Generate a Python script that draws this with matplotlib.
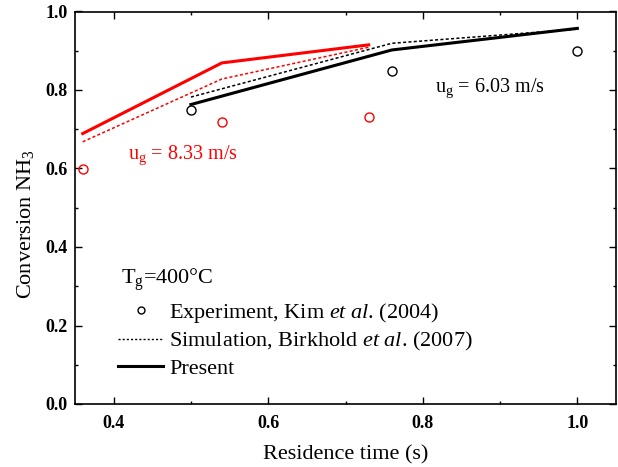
import matplotlib
matplotlib.use('Agg')
import matplotlib.pyplot as plt
from matplotlib.lines import Line2D
from matplotlib.ticker import MultipleLocator

plt.rcParams['font.family'] = ['Liberation Serif', 'DejaVu Serif']
plt.rcParams['mathtext.fontset'] = 'custom'
plt.rcParams['mathtext.rm'] = 'Liberation Serif'
plt.rcParams['mathtext.it'] = 'Liberation Serif:italic'

# u_g = 8.33 m/s (red)
t_833 = [0.36, 0.54, 0.73]
exp_833 = [0.600, 0.718, 0.731]
sim_833 = [0.668, 0.828, 0.909]
pres_833 = [0.689, 0.869, 0.915]

# u_g = 6.03 m/s (black)
t_603 = [0.50, 0.76, 1.00]
exp_603 = [0.750, 0.849, 0.900]
sim_603 = [0.782, 0.919, 0.955]
pres_603 = [0.763, 0.902, 0.957]

RED = '#ff0000'

fig = plt.figure(figsize=(6.18, 4.67), dpi=100)
ax = fig.add_axes([75 / 618, 63 / 467, 541 / 618, 392.5 / 467])

# red set
ax.plot(t_833, pres_833, color=RED, lw=2.2)
ax.plot(t_833, sim_833, color=RED, lw=1.1, linestyle=(0, (2, 1.5)))
ax.plot(t_833, exp_833, 'o', mfc='none', mec=RED, ms=6.5, mew=1.0)

# black set
ax.plot(t_603, pres_603, color='black', lw=2.2)
ax.plot(t_603, sim_603, color='black', lw=1.1, linestyle=(0, (2, 1.5)))
ax.plot(t_603, exp_603, 'o', mfc='none', mec='black', ms=6.5, mew=1.0)

ax.text(0.816, 0.795, r'u$_\mathrm{g}$ = 6.03 m/s', fontsize=14.5, color='black')
ax.text(0.419, 0.623, r'u$_\mathrm{g}$ = 8.33 m/s', fontsize=14.5, color=RED)
ax.text(0.409, 0.305, r'T$_\mathrm{g}$=400°C', fontsize=16)

handles = [
    Line2D([], [], marker='o', linestyle='none', mfc='none', mec='black', ms=5, mew=1.0),
    Line2D([], [], color='black', lw=1.0, linestyle=(0, (1.5, 1.5))),
    Line2D([], [], color='black', lw=2.2),
]
labels = [
    r'Experiment, Kim $\mathit{et\ al}$. (2004)',
    r'Simulation, Birkhold $\mathit{et\ al}$. (2007)',
    'Present',
]
ax.legend(handles, labels, loc='upper left', bbox_to_anchor=(0.406, 0.262),
          bbox_transform=ax.transData, frameon=False, fontsize=16,
          borderpad=0, borderaxespad=0, handlelength=2.0, handletextpad=0.3,
          labelspacing=0.22)

ax.set_xlim(0.35, 1.05)
ax.set_ylim(0.0, 1.0)
ax.xaxis.set_major_locator(MultipleLocator(0.2))
ax.xaxis.set_minor_locator(MultipleLocator(0.1))
ax.yaxis.set_major_locator(MultipleLocator(0.2))
ax.yaxis.set_minor_locator(MultipleLocator(0.1))
ax.tick_params(which='both', direction='in', top=True, right=True, width=1.0)
ax.tick_params(which='major', length=5)
ax.tick_params(which='minor', length=2.5)
ax.tick_params(axis='x', pad=8, labelsize=13)
ax.tick_params(axis='y', pad=5.3, labelsize=13)
for lbl in ax.get_xticklabels() + ax.get_yticklabels():
    lbl.set_fontweight('bold')
for sp in ax.spines.values():
    sp.set_linewidth(1.2)

ax.set_xlabel('Residence time (s)', fontsize=16)
ax.set_ylabel('Conversion NH$_3$', fontsize=16)
ax.yaxis.set_label_coords(-0.072, 0.459)
ax.xaxis.set_label_coords(0.5, -0.105)

fig.savefig('out.png', dpi=100)
